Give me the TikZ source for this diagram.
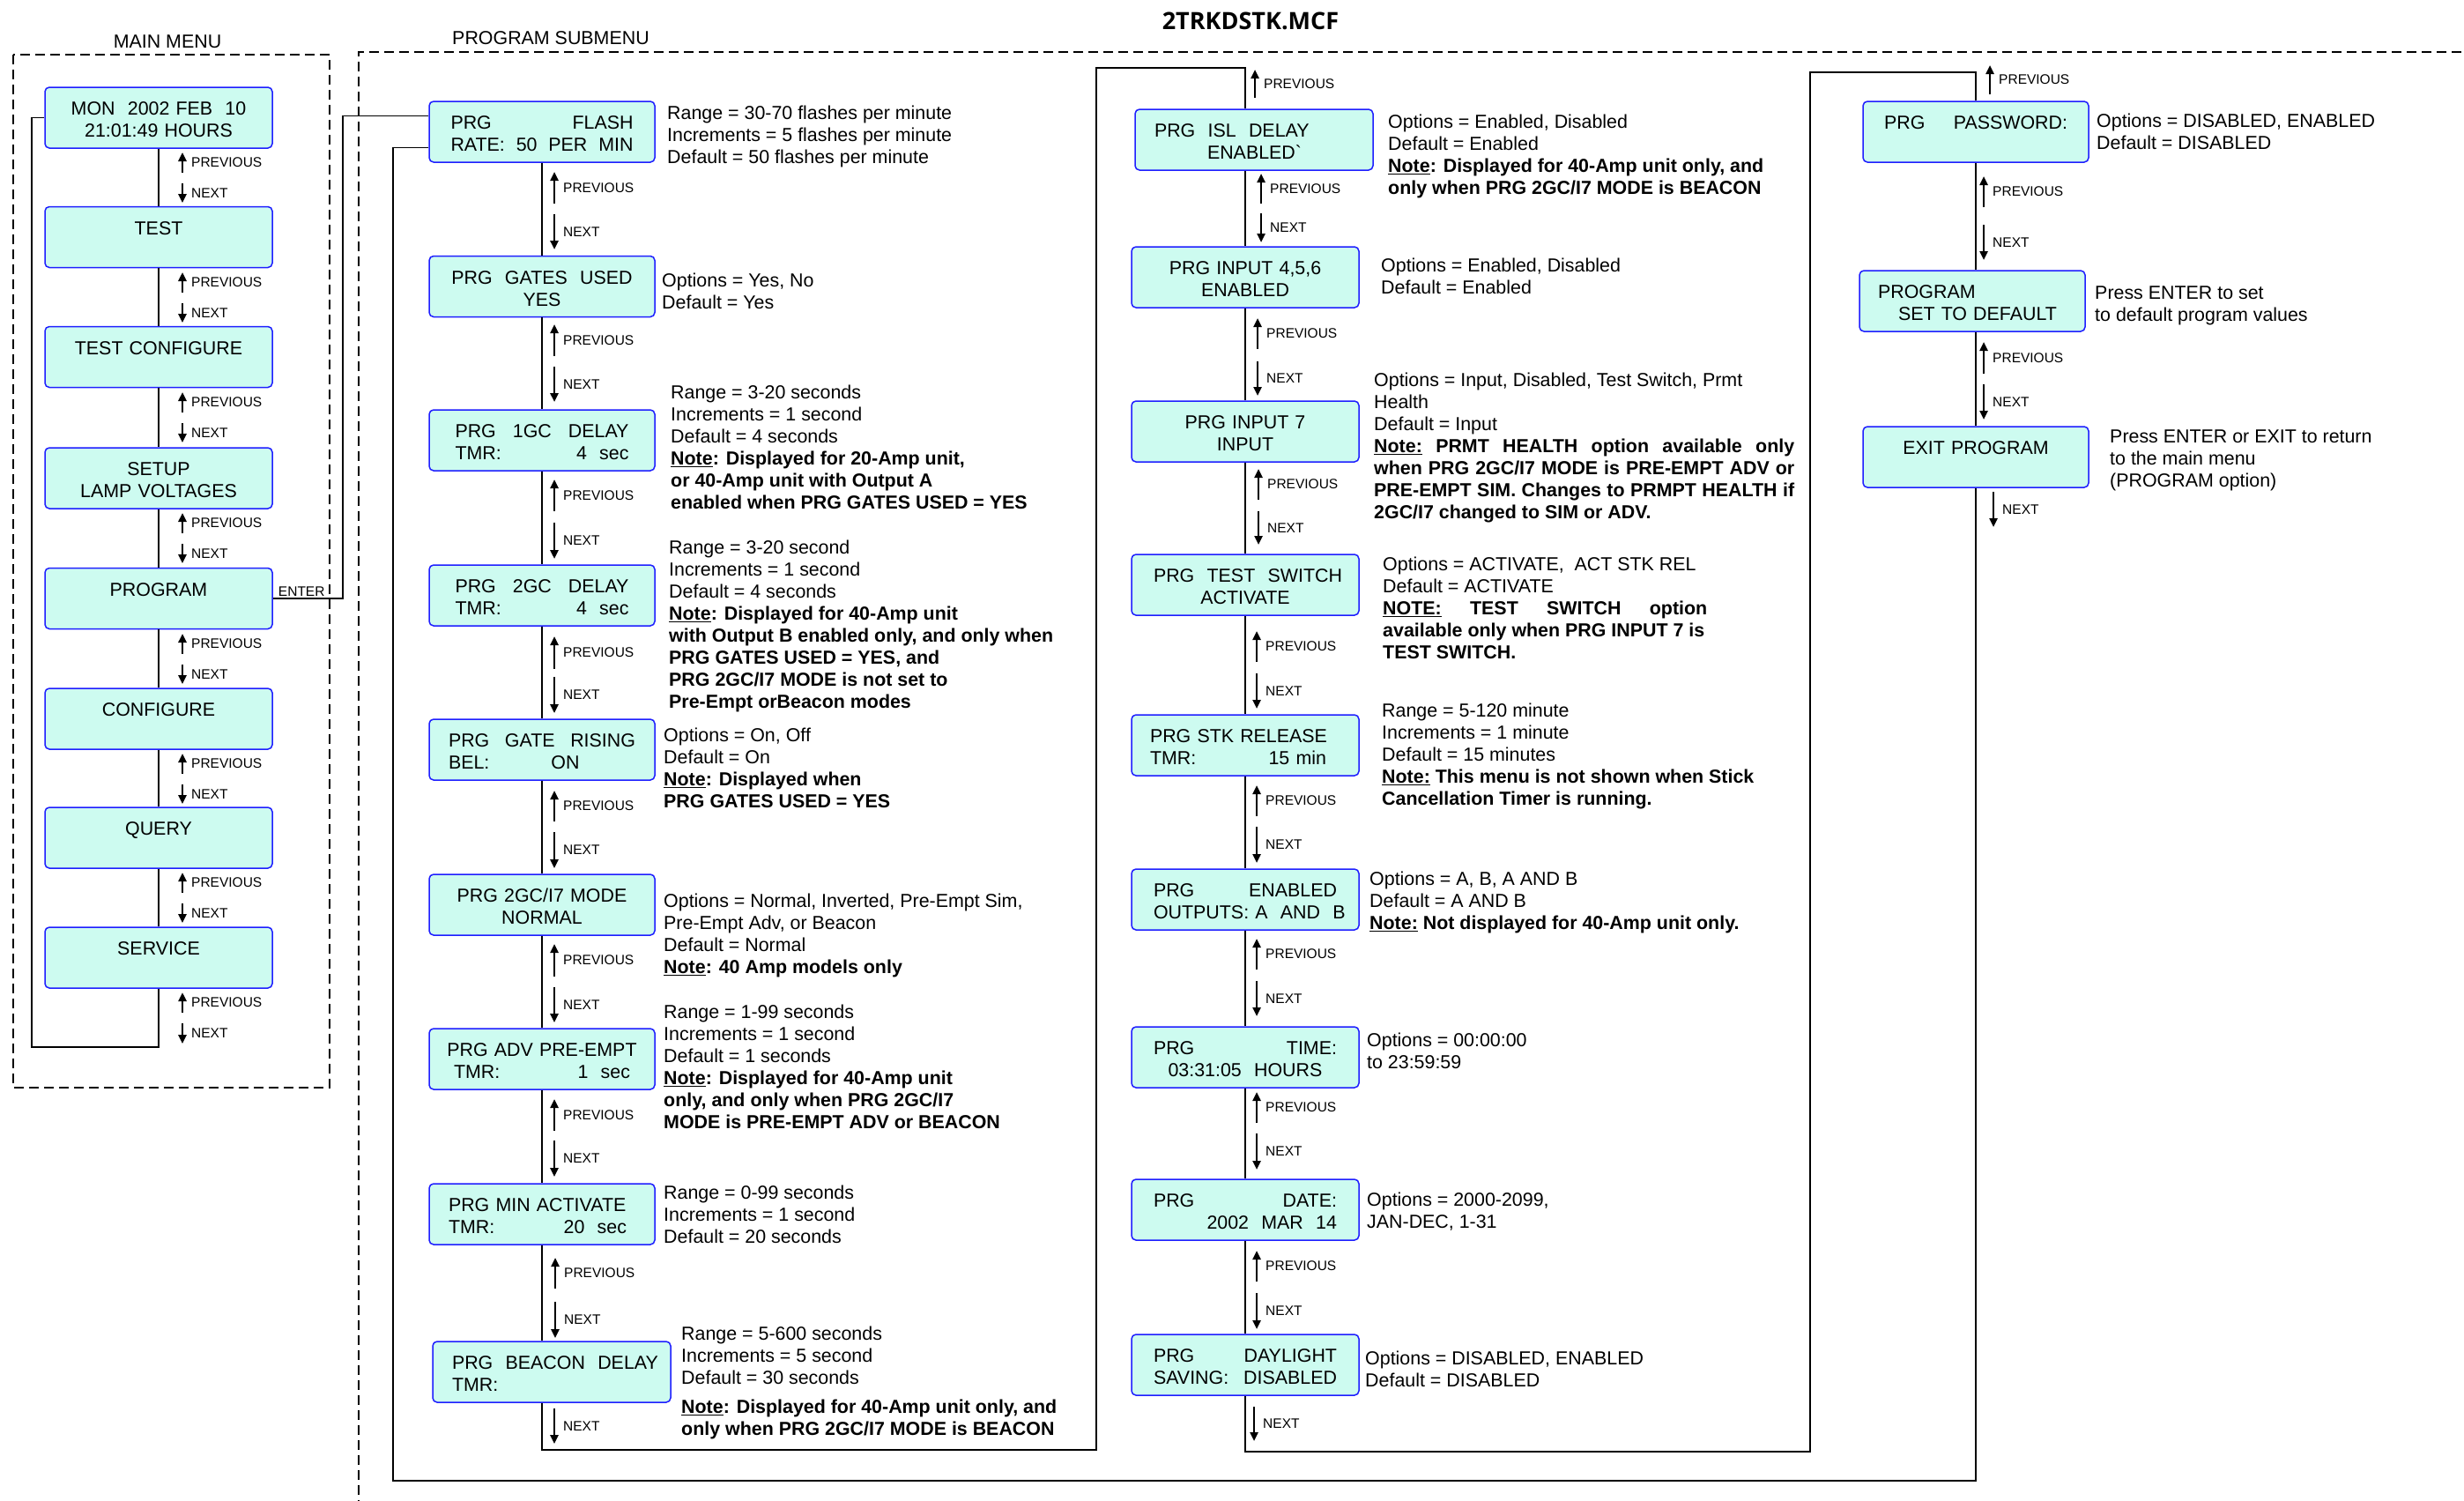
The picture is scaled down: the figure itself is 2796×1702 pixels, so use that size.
\documentclass[tikz,border=0pt]{standalone}
\usepackage{fontspec}
\setmainfont{Liberation Sans}
\newfontfamily\titlefont{Open Sans}
\usetikzlibrary{arrows.meta}

\definecolor{lcdfill}{RGB}{205,251,240}
\definecolor{lcdedge}{RGB}{30,30,255}

\newcommand{\lcdfont}{\fontsize{21.4}{25}\selectfont}
\newcommand{\navfont}{\fontsize{15.5}{18}\selectfont}
\newcommand{\gap}{\hskip 0pt plus 1filll}

\begin{document}
\begin{tikzpicture}[x=1pt, y=-1pt,
  lcd/.style={draw=lcdedge, fill=lcdfill, line width=1.5pt, rounded corners=5pt,
    minimum width=258pt, minimum height=69pt, inner sep=0pt, text width=208pt,
    text height=21pt, text depth=26.6pt, align=center, font=\lcdfont},
  note/.style={anchor=north west, inner sep=0pt, align=left, font=\lcdfont},
  wire/.style={line width=1.6pt},
  nav/.style={-{Triangle[length=10pt,width=9pt]}, line width=2.4pt},
  navlbl/.style={right, xshift=7pt, inner sep=2pt, font=\navfont},
  menuframe/.style={line width=1.5pt, dash pattern=on 11pt off 6pt}]
\useasboundingbox (0,0) rectangle (2796,1702);

\node[font=\titlefont\bfseries\fontsize{27}{30}\selectfont] (title) at (1419,24) {2TRKDSTK.MCF};
\node[font=\lcdfont] (mainlbl) at (190,47) {MAIN MENU};
\node[font=\lcdfont] (prglbl) at (625,43) {PROGRAM SUBMENU};
\draw[menuframe] (15,62) rectangle (374,1234);
\draw[menuframe] (2810,59) -- (407,59) -- (407,1720);

\node[lcd] (clock) at (180,133.5) {MON~~2002 FEB~~10\\21:01:49 HOURS};
\node[lcd] (test) at (180,269) {TEST};
\node[lcd] (testcfg) at (180,405) {TEST CONFIGURE};
\node[lcd] (setup) at (180,542.5) {SETUP\\LAMP VOLTAGES};
\node[lcd] (program) at (180,679) {PROGRAM};
\node[lcd] (configure) at (180,815.5) {CONFIGURE};
\node[lcd] (query) at (180,950.5) {QUERY};
\node[lcd] (service) at (180,1086.5) {SERVICE};

\node[lcd, minimum width=256pt, text width=207pt] (flashrate) at (615,149.5) {PRG\gap FLASH\\RATE:\gap 50\gap PER\gap MIN};
\node[lcd, minimum width=256pt] (gates) at (615,325) {PRG~~GATES~~USED\\YES};
\node[lcd, minimum width=256pt, text width=197pt] (delayA) at (615,499.5) {PRG\gap 1GC\gap DELAY\\TMR:\gap 4~~sec};
\node[lcd, minimum width=256pt, text width=197pt] (delayB) at (615,675.5) {PRG\gap 2GC\gap DELAY\\TMR:\gap 4~~sec};
\node[lcd, minimum width=256pt, text width=212pt] (rising) at (615,850.5) {PRG\gap GATE\gap RISING\\BEL:\hspace{70pt}ON\gap\null};
\node[lcd, minimum width=256pt] (mode) at (615,1026.5) {PRG 2GC/I7 MODE\\NORMAL};
\node[lcd, minimum width=256pt, text width=216pt] (advpre) at (615,1201.5) {\mbox{PRG ADV PRE-EMPT}\\\hspace*{8pt}TMR:\gap 1~~sec\hspace*{8pt}\null};
\node[lcd, minimum width=256pt, text width=212pt] (minact) at (615,1377.5) {PRG MIN ACTIVATE\gap\null\\TMR:\gap 20~~sec\hspace*{10pt}\null};
\node[lcd, minimum width=270pt, text width=226pt, align=left] (beacon) at (626,1556.5) {\mbox{PRG~~BEACON~~DELAY}\\TMR:};

\node[lcd, minimum width=270pt, text width=226pt, align=left] (isl) at (1423,158.5) {PRG~~ISL~~DELAY\\\hspace*{60pt}ENABLED\textasciigrave};
\node[lcd] (inputs) at (1413,314.5) {PRG INPUT 4,5,6\\ENABLED};
\node[lcd] (input7) at (1413,489.5) {PRG INPUT 7\\INPUT};
\node[lcd] (tswitch) at (1413,663.5) {PRG~~TEST~~SWITCH\\ACTIVATE};
\node[lcd, text width=216pt, align=left] (stkrel) at (1413,845.5) {PRG STK RELEASE\\TMR:\gap 15 min\hspace*{16pt}\null};
\node[lcd] (outputs) at (1413,1020.5) {PRG\gap ENABLED\\OUTPUTS:~A~~AND~~B};
\node[lcd] (clktime) at (1413,1199.5) {PRG\gap TIME:\\03:31:05~~HOURS};
\node[lcd] (clkdate) at (1413,1372.5) {PRG\gap DATE:\\\gap 2002~~MAR~~14};
\node[lcd] (daylight) at (1413,1548.5) {PRG\gap DAYLIGHT\\SAVING:\gap DISABLED};

\node[lcd, minimum width=256pt] (password) at (2242,149.5) {PRG\gap PASSWORD:};
\node[lcd, minimum width=256pt, text width=214pt, align=left] (setdef) at (2238,341.5) {PROGRAM\\\hspace*{23pt}SET TO DEFAULT};
\node[lcd, minimum width=256pt] (exitprg) at (2242,518.5) {EXIT PROGRAM};

\node[note] (flashnote) at (757,120.2) {Range = 30-70 flashes per minute\\Increments = 5 flashes per minute\\Default = 50 flashes per minute};
\node[note] (gatesnote) at (751,310.2) {Options = Yes, No\\Default = Yes};
\node[note] (delayAnote) at (761,437.2) {Range = 3-20 seconds\\Increments = 1 second\\Default = 4 seconds\\\textbf{\underline{Note}: Displayed for 20-Amp unit,}\\\textbf{or 40-Amp unit with Output A}\\\textbf{enabled when PRG GATES USED = YES}};
\node[note] (delayBnote) at (759,613.2) {Range = 3-20 second\\Increments = 1 second\\Default = 4 seconds\\\textbf{\underline{Note}: Displayed for 40-Amp unit}\\\textbf{with Output B enabled only, and only when}\\\textbf{PRG GATES USED = YES, and}\\\textbf{PRG 2GC/I7 MODE is not set to}\\\textbf{Pre-Empt orBeacon modes}};
\node[note] (risingnote) at (753,826.2) {Options = On, Off\\Default = On\\\textbf{\underline{Note}: Displayed when}\\\textbf{PRG GATES USED = YES}};
\node[note] (modenote) at (753,1014.2) {Options = Normal, Inverted, Pre-Empt Sim,\\Pre-Empt Adv, or Beacon\\Default = Normal\\\textbf{\underline{Note}: 40 Amp models only}};
\node[note] (advnote) at (753,1140.2) {Range = 1-99 seconds\\Increments = 1 second\\Default = 1 seconds\\\textbf{\underline{Note}: Displayed for 40-Amp unit}\\\textbf{only, and only when PRG 2GC/I7}\\\textbf{MODE is PRE-EMPT ADV or BEACON}};
\node[note] (minnote) at (753,1345.2) {Range = 0-99 seconds\\Increments = 1 second\\Default = 20 seconds};
\node[note] (beaconnote) at (773,1505.2) {Range = 5-600 seconds\\Increments = 5 second\\Default = 30 seconds};
\node[note] (beaconwarn) at (773,1588.2) {\textbf{\underline{Note}: Displayed for 40-Amp unit only, and}\\\textbf{only when PRG 2GC/I7 MODE is BEACON}};

\node[note] (islnote) at (1575,130.2) {Options = Enabled, Disabled\\Default = Enabled\\\textbf{\underline{Note}: Displayed for 40-Amp unit only, and}\\\textbf{only when PRG 2GC/I7 MODE is BEACON}};
\node[note] (inputsnote) at (1567,293.2) {Options = Enabled, Disabled\\Default = Enabled};
\node[note] (input7note) at (1559,423.2) {Options = Input, Disabled, Test Switch, Prmt\\Health\\Default = Input\\\makebox[477pt][s]{\textbf{\underline{Note:} PRMT HEALTH option available only}}\\\makebox[477pt][s]{\textbf{when PRG 2GC/I7 MODE is PRE-EMPT ADV or}}\\\makebox[477pt][s]{\textbf{PRE-EMPT SIM. Changes to PRMPT HEALTH if}}\\\textbf{2GC/I7 changed to SIM or ADV.}};
\node[note] (tswitchnote) at (1569,632.2) {Options = ACTIVATE,~~ACT STK REL\\Default = ACTIVATE\\\makebox[368pt][s]{\textbf{\underline{NOTE:} TEST SWITCH option}}\\\textbf{available only when PRG INPUT 7 is}\\\textbf{TEST SWITCH.}};
\node[note] (stknote) at (1568,798.2) {Range = 5-120 minute\\Increments = 1 minute\\Default = 15 minutes\\\textbf{\underline{Note:} This menu is not shown when Stick}\\\textbf{Cancellation Timer is running.}};
\node[note] (outputsnote) at (1554,989.2) {Options = A, B, A AND B\\Default = A AND B\\\textbf{\underline{Note:} Not displayed for 40-Amp unit only.}};
\node[note] (timenote) at (1551,1172.2) {Options = 00:00:00\\to 23:59:59};
\node[note] (datenote) at (1551,1353.2) {Options = 2000-2099,\\JAN-DEC, 1-31};
\node[note] (daylightnote) at (1549,1533.2) {Options = DISABLED, ENABLED\\Default = DISABLED};

\node[note] (passnote) at (2379,129.2) {Options = DISABLED, ENABLED\\Default = DISABLED};
\node[note] (setdefnote) at (2377,324.2) {Press ENTER to set\\to default program values};
\node[note] (exitnote) at (2394,487.2) {Press ENTER or EXIT to return\\to the main menu\\(PROGRAM option)};

\draw[wire] (clock) -- (test);
\draw[wire] (test) -- (testcfg);
\draw[wire] (testcfg) -- (setup);
\draw[wire] (setup) -- (program);
\draw[wire] (program) -- (configure);
\draw[wire] (configure) -- (query);
\draw[wire] (query) -- (service);
\draw[wire] (service.south) |- (36,1188) |- (clock.west);
\draw[wire] (program.east) -- node[above, pos=0.41, inner sep=2pt, font=\navfont] {ENTER} (389,679) |- ([yshift=18pt]flashrate.west);

\draw[wire] (flashrate) -- (gates);
\draw[wire] (gates) -- (delayA);
\draw[wire] (delayA) -- (delayB);
\draw[wire] (delayB) -- (rising);
\draw[wire] (rising) -- (mode);
\draw[wire] (mode) -- (advpre);
\draw[wire] (advpre) -- (minact);
\draw[wire] (minact.south) -- (minact.south |- beacon.north);
\draw[wire] (beacon.south -| minact.south) |- (1244,1645) |- (1413,77) -- (inputs.north |- isl.north);

\draw[wire] (isl.south -| inputs.north) -- (inputs.north);
\draw[wire] (inputs) -- (input7);
\draw[wire] (input7) -- (tswitch);
\draw[wire] (tswitch) -- (stkrel);
\draw[wire] (stkrel) -- (outputs);
\draw[wire] (outputs) -- (clktime);
\draw[wire] (clktime) -- (clkdate);
\draw[wire] (clkdate) -- (daylight);
\draw[wire] (daylight.south) |- (2054,1647) |- (2242,82) -- (password.north);

\draw[wire] (password) -- (setdef.north -| password.south);
\draw[wire] (setdef.south -| password.south) -- (exitprg);
\draw[wire] (exitprg.south) |- (446,1680) |- ([yshift=-18pt]flashrate.west);

\foreach \x/\ua/\ub/\da/\db in {207/173/196/208/230, 207/309/332/344/366, 207/445/468/480/502,
    207/582/605/617/639, 207/719/742/754/776, 207/855/878/890/912, 207/990/1013/1025/1047,
    207/1126/1149/1161/1184,
    629/195/231/243/283, 629/368/404/416/456, 629/544/580/593/634, 629/722/759/768/809,
    629/897/932/944/985, 629/1071/1108/1120/1160, 629/1247/1283/1294/1335, 630/1427/1462/1477/1518,
    1431/197/231/242/275, 1427/361/396/410/449, 1428/532/567/580/618, 1426/716/751/764/804,
    1426/891/926/938/979, 1426/1065/1100/1113/1153, 1426/1239/1274/1286/1327, 1426/1419/1454/1467/1508,
    2251/200/235/255/295, 2251/388/424/436/476} {
  \draw[nav] (\x,\ub) -- (\x,\ua) node[navlbl, midway] {PREVIOUS};
  \draw[nav] (\x,\da) -- (\x,\db) node[navlbl, midway] {NEXT};
}
\draw[nav] (1424,111) -- (1424,79) node[navlbl, midway] {PREVIOUS};
\draw[nav] (2258,107) -- (2258,74) node[navlbl, midway] {PREVIOUS};
\draw[nav] (629,1598) -- (629,1638) node[navlbl, midway] {NEXT};
\draw[nav] (1423,1596) -- (1423,1635) node[navlbl, midway] {NEXT};
\draw[nav] (2262,558) -- (2262,598) node[navlbl, midway] {NEXT};
\end{tikzpicture}
\end{document}
